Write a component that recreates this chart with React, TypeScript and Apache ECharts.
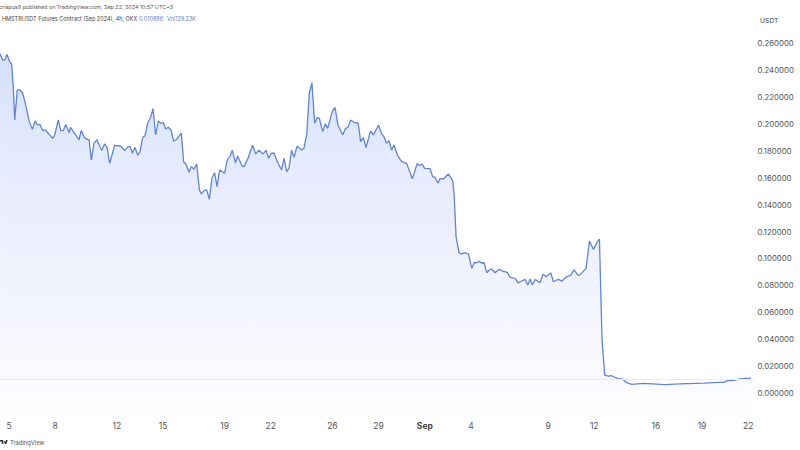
import React, { useEffect, useRef } from "react";
import * as echarts from "echarts";

// day 1 = Aug 1, so day 32 is Sep 1
const days = [
  4.42, 4.59, 4.72, 4.87, 5.07, 5.17, 5.28, 5.37, 5.54, 5.71, 5.89, 6.06, 6.32, 6.52, 6.69, 6.84, 7.01, 7.19, 7.36, 7.62,
  7.84, 7.97, 8.2, 8.36, 8.53, 8.68, 8.9, 9.0, 9.22, 9.55, 9.68, 9.94, 10.2, 10.35, 10.52, 10.71, 11.02, 11.21, 11.36, 11.54,
  11.86, 12.25, 12.51, 12.73, 12.86, 13.01, 13.18, 13.36, 13.51, 13.68, 13.83, 14.0, 14.2, 14.35, 14.52, 14.7, 14.87, 15.02, 15.17, 15.35,
  15.52, 15.69, 15.89, 16.19, 16.34, 16.49, 16.69, 16.84, 17.01, 17.19, 17.36, 17.49, 17.66, 17.84, 18.01, 18.18, 18.35, 18.51, 18.68, 19.0,
  19.18, 19.35, 19.5, 19.7, 19.85, 20.13, 20.26, 20.52, 20.82, 21.02, 21.21, 21.51, 21.69, 21.86, 22.03, 22.21, 22.47, 22.7, 22.86, 23.03,
  23.18, 23.35, 23.51, 23.7, 24.0, 24.15, 24.33, 24.5, 24.67, 24.85, 25.02, 25.15, 25.37, 25.54, 25.69, 25.99, 26.17, 26.36, 26.67, 26.84,
  27.01, 27.18, 27.4, 27.68, 27.83, 28.01, 28.18, 28.48, 28.66, 29.0, 29.18, 29.35, 29.52, 29.67, 29.85, 30.0, 30.22, 30.5, 30.82, 31.19,
  31.51, 31.64, 31.82, 31.99, 32.34, 32.51, 32.66, 32.86, 32.99, 33.21, 33.53, 33.81, 33.9, 34.03, 34.22, 34.4, 34.55, 34.83, 35.05, 35.22,
  35.37, 35.54, 35.67, 35.85, 36.02, 36.19, 36.34, 36.56, 36.84, 37.1, 37.36, 37.54, 37.86, 38.06, 38.19, 38.51, 38.7, 38.83, 38.99, 39.16,
  39.48, 39.68, 39.87, 40.18, 40.35, 40.67, 40.89, 41.21, 41.47, 41.69, 41.91, 42.04, 42.47, 42.69, 42.95, 43.21, 43.34, 43.44, 43.51, 43.68,
  43.92, 44.14, 44.35, 44.57, 44.85, 45.07, 45.44, 46.19, 47.6, 48.57, 50.09, 51.06, 51.39, 51.71, 52.04, 52.36, 52.9, 53.18,
];

const prices = [
  0.2519, 0.2474, 0.2474, 0.2514, 0.2455, 0.2445, 0.2276, 0.2029, 0.2252, 0.2252, 0.2227, 0.2152, 0.2016, 0.1959, 0.2019, 0.1994, 0.1994, 0.1949, 0.1954, 0.192,
  0.1892, 0.1917, 0.2029, 0.1949, 0.1949, 0.1994, 0.1935, 0.1974, 0.1935, 0.188, 0.1949, 0.1892, 0.188, 0.1731, 0.1855, 0.1882, 0.1801, 0.185, 0.1825, 0.1707,
  0.184, 0.1835, 0.1801, 0.183, 0.183, 0.1781, 0.1825, 0.1766, 0.1793, 0.19, 0.191, 0.2004, 0.2048, 0.2113, 0.1917, 0.2021, 0.2004, 0.2009, 0.1962, 0.1974,
  0.1954, 0.187, 0.1885, 0.193, 0.1717, 0.1702, 0.164, 0.1682, 0.1662, 0.1702, 0.1509, 0.1479, 0.1504, 0.1509, 0.1439, 0.1595, 0.1637, 0.1533, 0.1657, 0.1632,
  0.1736, 0.1756, 0.1803, 0.1711, 0.1761, 0.1687, 0.1682, 0.1744, 0.184, 0.1776, 0.1803, 0.1776, 0.1803, 0.1744, 0.1781, 0.1781, 0.1707, 0.1657, 0.1744, 0.1645,
  0.167, 0.1803, 0.1751, 0.1833, 0.1806, 0.1818, 0.1917, 0.2227, 0.2306, 0.2004, 0.2046, 0.2041, 0.1942, 0.1999, 0.1966, 0.209, 0.2122, 0.1991, 0.1917, 0.1964,
  0.1974, 0.2028, 0.2011, 0.2004, 0.1867, 0.1897, 0.1823, 0.1947, 0.1917, 0.1991, 0.1929, 0.1904, 0.1855, 0.1875, 0.1805, 0.1842, 0.1768, 0.1719, 0.1706, 0.1592,
  0.1706, 0.1689, 0.1701, 0.1669, 0.1667, 0.1607, 0.1602, 0.1558, 0.1595, 0.159, 0.1627, 0.1578, 0.1484, 0.1162, 0.1043, 0.1033, 0.1043, 0.1033, 0.0926, 0.0971,
  0.0968, 0.0978, 0.0966, 0.0968, 0.0894, 0.0914, 0.0921, 0.0894, 0.0919, 0.0904, 0.0896, 0.0859, 0.0852, 0.0817, 0.0827, 0.0844, 0.0802, 0.0847, 0.0802, 0.0844,
  0.082, 0.0882, 0.0864, 0.0892, 0.0827, 0.0844, 0.0832, 0.0864, 0.0874, 0.0916, 0.0879, 0.0874, 0.0926, 0.1129, 0.1067, 0.1124, 0.1144, 0.0691, 0.0394, 0.0134,
  0.0126, 0.0129, 0.0116, 0.0107, 0.0104, 0.0079, 0.0064, 0.0072, 0.0062, 0.0069, 0.0074, 0.0079, 0.0079, 0.0094, 0.0092, 0.0104, 0.0109, 0.0111,
];

const tickDays = [5, 8, 12, 15, 19, 22, 26, 29, 32, 35, 40, 43, 47, 50, 53];
const tickLabels = ["5", "8", "12", "15", "19", "22", "26", "29", "Sep", "4", "9", "12", "16", "19", "22"];
const lastPrice = 0.0109;

const font = "Inter, Roboto, sans-serif";

echarts.graphic.registerShape(
  "tvLogo",
  echarts.graphic.extendPath("M0 0H6V5H3V2H0ZM8.5 1.2A1.2 1.2 0 1 0 8.5 3.6A1.2 1.2 0 1 0 8.5 1.2ZM11 0H14L11.5 5H8.5Z", {})
);

export default function App() {
  const chartRef = useRef<HTMLDivElement>(null);

  useEffect(() => {
    const chart = echarts.init(chartRef.current!, undefined, { renderer: "svg" });

    chart.setOption({
      animation: false,
      backgroundColor: "#ffffff",
      grid: { left: 0, right: 45, top: 43, height: 377, outerBoundsMode: "none" },
      xAxis: {
        type: "value",
        min: 4.416,
        max: 53.44,
        splitLine: { show: false },
        axisLine: { show: false },
        axisTick: { show: false },
        axisLabel: {
          customValues: tickDays,
          margin: 1,
          color: "#555555",
          fontSize: 8.5,
          fontFamily: font,
          formatter: (v: number) => {
            const label = tickLabels[tickDays.indexOf(v)];
            return label === "Sep" ? "{b|Sep}" : label;
          },
          rich: { b: { fontWeight: "bold", fontSize: 8.5, color: "#444444", fontFamily: font } },
        },
      },
      yAxis: {
        type: "value",
        position: "right",
        min: -0.02,
        max: 0.26,
        interval: 0.02,
        splitLine: { show: false },
        axisLine: { show: false },
        axisTick: { show: false },
        axisLabel: {
          margin: 2.5,
          color: "#555555",
          fontSize: 7.8,
          fontFamily: font,
          formatter: (v: number) => (v < -0.001 ? "" : v.toFixed(6)),
        },
      },
      series: [
        {
          type: "line",
          data: days.map((d, i) => [d, prices[i]]),
          showSymbol: false,
          lineStyle: { color: "#6285cd", width: 1.3 },
          areaStyle: {
            origin: "start",
            color: {
              type: "linear",
              global: true,
              x: 0,
              y: 55,
              x2: 0,
              y2: 420,
              colorStops: [
                { offset: 0, color: "#c2d1f7" },
                { offset: 0.25, color: "#d6e1fd" },
                { offset: 0.4, color: "#e1e5fc" },
                { offset: 0.7, color: "#eef1fe" },
                { offset: 0.88, color: "#f7f8ff" },
                { offset: 1, color: "#ffffff" },
              ],
            },
          },
          markLine: {
            silent: true,
            symbol: "none",
            label: { show: false },
            lineStyle: { color: "#e8ebf4", width: 1, type: "solid" },
            data: [{ yAxis: lastPrice }],
          },
        },
      ],
      graphic: [
        {
          type: "text",
          x: -1,
          y: 4,
          style: { text: "crispus9 published on TradingView.com, Sep 22, 2024 10:57 UTC+3", fill: "#555555", fontSize: 5.4, fontFamily: font },
        },
        {
          type: "text",
          x: 2,
          y: 16,
          style: { text: "HMSTRUSDT Futures Contract (Sep 2024), 4h, OKX", fill: "#444444", fontSize: 5.5, fontFamily: font },
        },
        {
          type: "text",
          x: 139,
          y: 16,
          style: { text: "0.010886", fill: "#5b7fc9", fontSize: 5.5, fontFamily: font },
        },
        {
          type: "text",
          x: 167,
          y: 16,
          style: { text: "Vol129.23K", fill: "#5b7fc9", fontSize: 5.5, fontFamily: font },
        },
        {
          type: "text",
          x: 760,
          y: 16.5,
          style: { text: "USDT", fill: "#444444", fontSize: 6.8, fontFamily: font },
        },
        { type: "tvLogo", x: 0, y: 440, scaleX: 0.55, scaleY: 0.8, style: { fill: "#333333" } },
        {
          type: "text",
          x: 10,
          y: 439,
          style: { text: "TradingView", fill: "#555555", fontSize: 5.8, fontFamily: font },
        },
      ],
    });

    return () => {
      chart.dispose();
    };
  }, []);

  return <div ref={chartRef} style={{ position: "absolute", left: 0, top: 0, width: "800px", height: "450px" }} />;
}
